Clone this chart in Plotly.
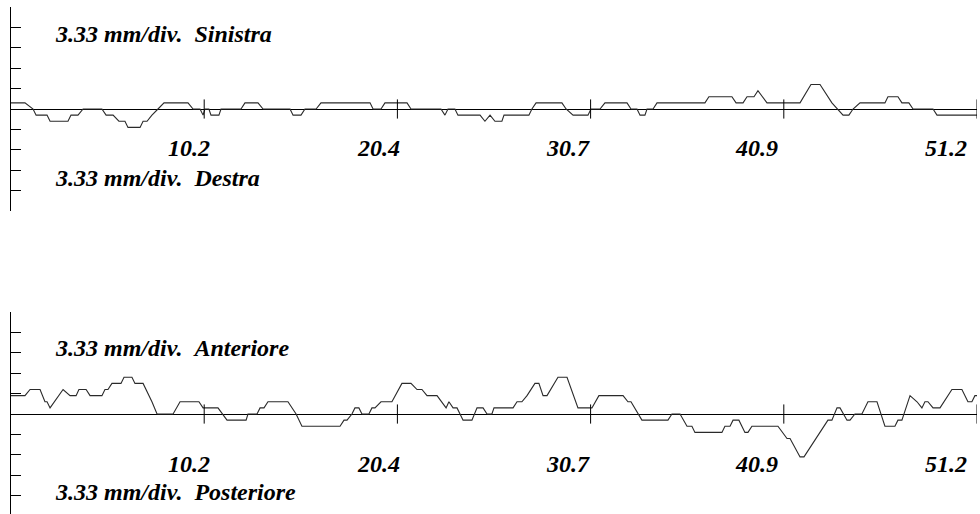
import plotly.graph_objects as go

# ---------------- data ----------------
DIV_MM = 3.33  # mm per division
x_ticks = [10.24, 20.48, 30.72, 40.96, 51.2]
x_tick_labels = ["10.2", "20.4", "30.7", "40.9", "51.2"]

# Sinistra (+) / Destra (-)
lr_x = [0.0, 0.74, 1.17, 1.33, 1.91, 2.07, 3.02, 3.18, 3.55, 3.82,
        4.82, 5.04, 5.41, 5.72, 6.04, 6.20, 6.84, 7.00, 7.21, 7.47,
        7.79, 8.11, 9.38, 9.65, 10.02, 10.18, 10.28, 10.49, 10.60, 11.02,
        11.13, 12.19, 12.40, 13.09, 13.36, 14.79, 14.95, 15.37, 15.58, 16.17,
        16.43, 19.03, 19.19, 19.61, 19.82, 20.99, 21.20, 22.79, 23.00, 23.16,
        23.53, 23.69, 24.86, 25.12, 25.39, 25.65, 26.02, 26.13, 27.45, 27.61,
        27.83, 29.20, 29.42, 29.79, 30.58, 30.74, 31.22, 31.48, 32.65, 32.86,
        33.18, 33.34, 33.60, 33.71, 34.03, 34.24, 36.78, 36.99, 38.21, 38.43,
        38.80, 39.01, 39.38, 39.59, 40.07, 41.82, 42.40, 42.88, 43.51, 43.83,
        44.10, 44.41, 44.63, 45.00, 46.32, 46.48, 47.01, 47.22, 47.59, 47.81,
        48.87, 49.08, 51.2]
lr_y = [1, 1, 0, -1, -1, -2, -2, -1, -1, 0,
        0, -1, -1, -2, -2, -3, -3, -2, -2, -1,
        0, 1, 1, 0, 0, -1, 0, 0, -1, -1,
        0, 0, 1, 1, 0, 0, -1, -1, 0, 0,
        1, 1, 0, 0, 1, 1, 0, 0, -1, 0,
        0, -1, -1, -2, -1, -2, -2, -1, -1, 0,
        1, 1, 0, -1, -1, 0, 0, 1, 1, 0,
        0, -1, -1, 0, 0, 1, 1, 2, 2, 1,
        1, 2, 2, 3, 1, 1, 4, 4, 1, 0,
        -1, -1, 0, 1, 1, 2, 2, 1, 1, 0,
        0, -1, -1]

# Anteriore (+) / Posteriore (-)
ap_x = [0.0, 0.74, 1.01, 1.54, 1.80, 1.91, 2.07, 2.76, 3.13, 3.45,
        3.60, 3.98, 4.19, 4.82, 4.98, 5.14, 5.35, 5.83, 5.99, 6.41,
        6.57, 7.00, 7.47, 7.74, 8.59, 8.96, 9.96, 10.18, 10.97, 11.45,
        12.46, 12.56, 13.04, 13.20, 13.41, 13.62, 14.68, 15.11, 15.42, 17.44,
        17.65, 17.81, 18.07, 18.23, 18.44, 18.60, 18.97, 19.13, 19.29, 19.61,
        20.19, 20.72, 21.20, 21.52, 21.78, 22.05, 22.58, 23.06, 23.21, 23.43,
        23.64, 23.96, 24.43, 24.70, 25.02, 25.23, 25.49, 25.60, 26.61, 26.82,
        27.08, 27.35, 27.77, 27.98, 28.20, 28.41, 28.99, 29.47, 30.05, 30.79,
        31.16, 32.44, 32.70, 32.86, 33.44, 34.82, 35.03, 35.46, 35.83, 36.09,
        36.25, 37.68, 37.84, 38.11, 38.27, 38.58, 38.90, 39.06, 39.27, 40.65,
        41.13, 41.29, 41.82, 42.03, 43.30, 43.51, 43.78, 43.94, 44.31, 44.47,
        44.73, 45.10, 45.42, 45.90, 46.32, 46.85, 47.01, 47.22, 47.65, 48.02,
        48.28, 48.44, 48.60, 48.87, 49.24, 49.87, 50.40, 50.72, 50.93, 51.09,
        51.20]
ap_y = [3, 3, 4, 4, 2, 2, 1, 4, 3, 3,
        4, 4, 3, 3, 4, 4, 5, 5, 6, 6,
        5, 5, 2, 0, 0, 2, 2, 1, 1, -1,
        -1, 0, 0, 1, 1, 2, 2, 0, -2, -2,
        -1, -1, 0, 1, 1, 0, 0, 1, 1, 2,
        2, 5, 5, 4, 4, 3, 3, 1, 2, 1,
        1, -1, -1, 1, 1, 0, 0, 1, 1, 2,
        2, 3, 5, 5, 3, 3, 6, 6, 1, 1,
        3, 3, 2, 2, -1, -1, 0, 0, -2, -2,
        -3, -3, -2, -2, -1, -1, -3, -3, -2, -2,
        -4, -4, -7, -7, -1, -1, 1, 1, -1, -1,
        0, 0, 2, 2, -2, -2, -1, -1, 3, 2,
        1, 2, 2, 1, 1, 4, 4, 2, 2, 3,
        3]

panel_top_labels = ["3.33 mm/div.\u00a0\u00a0Sinistra", "3.33 mm/div.\u00a0\u00a0Anteriore"]
panel_bottom_labels = ["3.33 mm/div.\u00a0\u00a0Destra", "3.33 mm/div.\u00a0\u00a0Posteriore"]

# ---------------- figure ----------------
W, H = 980, 514
FONT = "Liberation Serif"
LINE = "#2a2a2a"

fig = go.Figure()

fig.add_trace(go.Scatter(x=lr_x, y=lr_y, mode="lines", xaxis="x", yaxis="y",
                         line=dict(color=LINE, width=1.1), hoverinfo="skip"))
fig.add_trace(go.Scatter(x=ap_x, y=ap_y, mode="lines", xaxis="x2", yaxis="y2",
                         line=dict(color=LINE, width=1.1), hoverinfo="skip"))

# vertical tick marks crossing the zero line
half = 0.47 * DIV_MM
for xa, ya in (("x", "y"), ("x2", "y2")):
    tx, ty = [], []
    for t in x_ticks:
        tx += [t, t, None]
        ty += [-half, half, None]
    fig.add_trace(go.Scatter(x=tx, y=ty, mode="lines", xaxis=xa, yaxis=ya,
                             line=dict(color="black", width=1), hoverinfo="skip"))

x_dom = [11 / W, 977 / W]
ytickvals = [k * DIV_MM for k in range(-5, 6)]

def yax(domain, rng, anchor):
    return dict(domain=domain, range=rng, anchor=anchor, showgrid=False,
                zeroline=True, zerolinecolor="black", zerolinewidth=1,
                showline=True, linecolor="black", linewidth=1,
                ticks="inside", ticklen=10, tickcolor="black", tickwidth=1,
                tickmode="array", tickvals=ytickvals, showticklabels=False,
                fixedrange=True)

def xax(anchor):
    return dict(domain=x_dom, range=[0, 51.2], anchor=anchor, showgrid=False,
                zeroline=False, showline=False, ticks="", showticklabels=False,
                fixedrange=True)

ya = yax([1 - 211 / H, 1 - 7 / H], [-5.002 * DIV_MM, 5.002 * DIV_MM], "x")
ya2 = yax([0, 1 - 312 / H], [-(100 / 20.4) * DIV_MM, 5.002 * DIV_MM], "x2")

annotations = []
font = dict(family=FONT, size=24, color="black", weight="bold", style="italic")
# tick labels
for xref, ypix in (("x", 148), ("x2", 464)):
    for i, (t, lab) in enumerate(zip(x_ticks, x_tick_labels)):
        annotations.append(dict(x=t, xref=xref, y=1 - ypix / H, yref="paper",
                                text=lab, showarrow=False,
                                xanchor="center", yanchor="middle",
                                xshift=-15 - 4 * i, font=font))
# panel labels
for lab, ypix in ((panel_top_labels[0], 34), (panel_bottom_labels[0], 178),
                  (panel_top_labels[1], 348), (panel_bottom_labels[1], 492)):
    annotations.append(dict(x=53 / W, xref="paper", y=1 - ypix / H, yref="paper",
                            text=lab, showarrow=False,
                            xanchor="left", yanchor="middle", font=font))

fig.update_layout(
    width=W, height=H, margin=dict(l=0, r=0, t=0, b=0, pad=0),
    paper_bgcolor="white", plot_bgcolor="white", showlegend=False,
    xaxis=xax("y"), xaxis2=xax("y2"), yaxis=ya, yaxis2=ya2,
    annotations=annotations, font=font,
)

fig.write_html("out.html", config={"displayModeBar": False, "staticPlot": True})
